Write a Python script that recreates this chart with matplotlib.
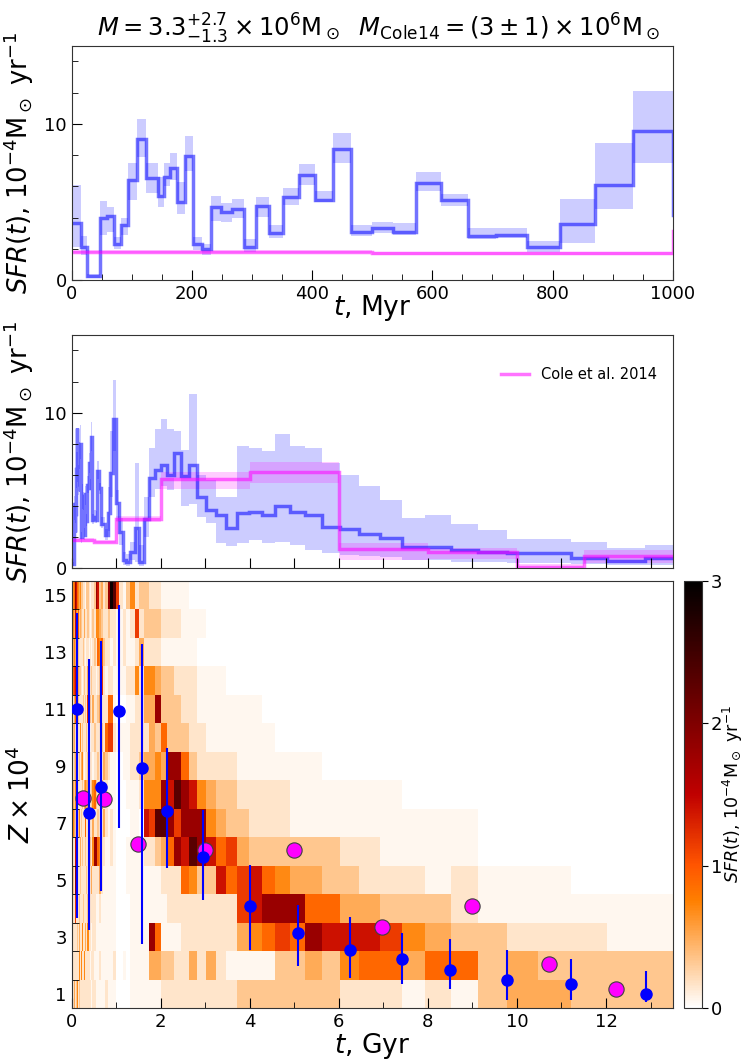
import matplotlib
matplotlib.use('Agg')
import matplotlib.pyplot as plt
import numpy as np
from matplotlib.ticker import MultipleLocator

# time bin edges, Gyr
t_edges = [0.0, 0.015, 0.025, 0.047, 0.058, 0.071, 0.082, 0.094, 0.108, 0.124,
           0.143, 0.153, 0.164, 0.176, 0.189, 0.202, 0.217, 0.232, 0.249, 0.267,
           0.286, 0.307, 0.329, 0.352, 0.378, 0.405, 0.434, 0.465, 0.499, 0.535,
           0.573, 0.615, 0.659, 0.706, 0.757, 0.812, 0.870, 0.933, 1.0,
           1.072, 1.148, 1.230, 1.318, 1.413, 1.514, 1.622, 1.738, 1.862, 1.995,
           2.138, 2.291, 2.455, 2.630, 2.818, 3.020, 3.236, 3.467, 3.715, 3.981,
           4.266, 4.571, 4.898, 5.248, 5.623, 6.026, 6.457, 6.918, 7.413, 7.943,
           8.511, 9.120, 9.772, 10.47, 11.22, 12.02, 12.88, 13.5]

# SFR, 1e-4 Msun/yr
sfr = [3.67, 2.1, 0.26, 4.0, 4.12, 2.3, 3.5, 6.4, 9.0, 6.5,
       5.4, 6.6, 7.16, 4.98, 7.97, 2.3, 1.97, 4.66, 4.38, 4.57,
       2.1, 4.74, 3.03, 5.34, 6.73, 5.13, 8.4, 3.08, 3.3, 3.06,
       6.24, 5.13, 2.82, 2.86, 2.1, 3.57, 6.11, 9.57,
       4.17, 2.34, 0.52, 0.41, 1.05, 2.56, 0.41, 3.14, 5.79, 6.32,
       6.65, 6.0, 7.4, 5.9, 6.65, 4.6, 3.74, 3.42, 2.56, 3.53,
       3.63, 3.42, 3.96, 3.63, 3.42, 2.62, 2.52, 2.19, 1.91, 1.34,
       1.34, 1.16, 1.05, 0.95, 0.95, 0.63, 0.47, 0.63]
sfr_lo = [2.1, 1.6, 0.1, 2.9, 3.1, 2.0, 2.9, 5.13, 7.9, 5.56,
          4.7, 6.0, 6.4, 4.2, 7.0, 1.9, 1.6, 3.8, 3.7, 3.95,
          1.8, 4.05, 2.7, 4.8, 6.1, 5.0, 7.5, 2.8, 3.0, 2.9,
          5.7, 4.74, 2.6, 2.7, 1.8, 2.4, 4.55, 7.5,
          3.0, 1.5, 0.2, 0.1, 0.5, 0.4, 0.1, 2.0, 4.6, 5.1,
          5.3, 5.0, 5.8, 3.96, 4.1, 3.3, 2.88, 1.59, 1.42, 1.59,
          1.8, 1.59, 1.7, 1.5, 1.16, 0.99, 0.84, 0.77, 0.73, 0.52,
          0.52, 0.41, 0.37, 0.35, 0.35, 0.25, 0.19, 0.19]
sfr_hi = [6.1, 2.8, 0.4, 5.06, 4.66, 2.78, 3.95, 7.48, 10.3, 7.48,
          6.6, 7.48, 8.1, 6.3, 9.2, 2.78, 2.3, 5.4, 4.9, 5.2,
          2.6, 5.3, 3.5, 5.9, 7.4, 5.7, 9.4, 3.5, 3.7, 3.65,
          6.9, 5.5, 3.3, 3.3, 2.5, 5.2, 8.8, 12.1,
          5.0, 3.2, 1.0, 0.9, 1.7, 6.75, 1.5, 4.6, 7.7, 8.95,
          9.6, 8.95, 8.8, 7.6, 11.2, 6.0, 5.68, 4.6, 4.6, 7.83,
          7.7, 7.5, 8.65, 7.83, 7.7, 6.75, 5.96, 5.25, 4.39, 3.2,
          3.38, 2.84, 2.45, 1.85, 1.85, 1.66, 1.27, 1.48]

# Cole et al. 2014
cole_edges = [0, 0.5, 1.0, 2.0, 4.0, 6.0, 8.0, 10.0, 11.5, 13.5]
cole_sfr = [1.8, 1.7, 3.15, 5.7, 6.2, 1.25, 1.0, 0.05, 0.78]
cole_lo = [1.7, 1.6, 2.95, 5.1, 5.5, 0.5, 0.6, 0.0, 0.3]
cole_hi = [1.9, 1.8, 3.35, 6.2, 6.8, 1.6, 1.3, 0.25, 1.15]

# SFR(t, Z) map, one string per Z row (Z = 15 at the top), one char per time bin
z_levels = {'0': 0.0, '1': 0.05, '2': 0.16, '3': 0.33, '4': 0.5, '5': 0.7,
            '6': 0.9, '7': 1.15, '8': 1.4, '9': 1.8, 'A': 2.3, 'B': 2.9}
z_rows = [
    "9758659856 5446543322 2133212239 834239BA 72135 2332211 11000000000000000000000000",
    "6857468534 6532453223 4223212325 54322322 11212 7233322 21110000000000000000000000",
    "5647534642 3223212232 2122121232 65632212 11211 2422211 11100000000000000000000000",
    "3464758436 4232322122 3224223221 23721221 11122 5255433 22211100000000000000000000",
    "2325486324 3221232232 2327732422 34222661 00011 2244933 32211111100000000000000000",
    "2232432523 2122522321 2232212232 22326772 11112 2224363 33221111110000000000000000",
    "3225324223 2232224522 1223222122 32243211 00112 2344549 96322221111110000000000000",
    "2342325232 2423222324 4544323563 22422111 00011 1255598 A9854332222111111000000000",
    "3252423622 3259223223 2622322422 32242121 00001 1087AA9 79995433222111111111000000",
    "2324228322 2322422322 2322232599 65221121 00011 1122346 98A98674333333221111000000",
    "2232239222 2522322223 2232224222 24211111 00011 1111122 26533867865443322212111000",
    "2223227212 2232222232 2223222221 12111111 00001 1111112 22222227899966443332111111",
    "2322242223 2242222522 2425221221 11111111 00001 1119611 12222224567698887543322211",
    "2225242212 2252225222 5222212211 12111112 00101 1114433 22424211113343566466343333",
    "2322422325 2232242222 2222221221 11112111 00001 1111122 22222223333333222121344333",
]
z_labels = [1, 3, 5, 7, 9, 11, 13, 15]

# metallicity estimates (blue) and Cole et al. points (magenta)
blue_t = [0.13, 0.39, 0.66, 1.06, 1.58, 2.14, 2.95, 4.0, 5.08, 6.26, 7.41, 8.50, 9.78, 11.22, 12.89]
blue_z = [11.0, 7.36, 8.25, 10.93, 8.94, 7.42, 5.79, 4.07, 3.13, 2.54, 2.22, 1.82, 1.47, 1.35, 1.0]
blue_lo = [3.66, 3.25, 4.61, 6.81, 2.74, 5.43, 4.3, 2.54, 1.96, 1.55, 1.35, 1.18, 0.79, 0.77, 0.71]
blue_hi = [14.36, 12.74, 13.39, 14.63, 13.27, 9.64, 7.46, 5.53, 4.12, 3.68, 3.15, 2.93, 2.54, 2.22, 1.79]
mag_t = [0.25, 0.73, 1.49, 2.99, 4.99, 6.97, 8.98, 10.72, 12.22]
mag_z = [7.87, 7.84, 6.26, 6.05, 6.05, 3.36, 4.07, 2.05, 1.17]

plt.rcParams.update({'font.size': 13,
                     'xtick.direction': 'in', 'ytick.direction': 'in',
                     'xtick.major.size': 7, 'ytick.major.size': 7,
                     'xtick.minor.size': 4, 'ytick.minor.size': 4,
                     'axes.edgecolor': '0.2'})

sfr_label = r'$SFR(t)$, $10^{-4}\mathrm{M}_\odot\ \mathrm{yr}^{-1}$'

fig = plt.figure(figsize=(7.43, 10.61), dpi=100)
ax1 = fig.add_axes([0.0965, 0.7361, 0.809, 0.2208])
ax2 = fig.add_axes([0.0965, 0.4647, 0.809, 0.2196])
ax3 = fig.add_axes([0.0965, 0.0499, 0.809, 0.4028])
cax = fig.add_axes([0.921, 0.0499, 0.0242, 0.4028])

edges = np.array(t_edges)
cedges = np.array(cole_edges)

for ax, scale in [(ax1, 1000.0), (ax2, 1.0)]:
    ax.stairs(sfr_hi, edges * scale, baseline=sfr_lo, fill=True, color='blue', alpha=0.2, lw=0)
    ax.stairs(cole_hi, cedges * scale, baseline=cole_lo, fill=True, color='magenta', alpha=0.2, lw=0)
    ax.stairs(sfr, edges * scale, baseline=None, color='blue', alpha=0.55, lw=2.5)
    ax.stairs(cole_sfr, cedges * scale, baseline=None, color='magenta', alpha=0.55, lw=2.5)
    ax.set_ylim(0, 15)
    ax.yaxis.set_major_locator(MultipleLocator(10))
    ax.yaxis.set_minor_locator(MultipleLocator(2))
    ax.set_ylabel(sfr_label, fontsize=18.5)
    ax.yaxis.set_label_coords(-0.06, 0.5)

ax1.set_xlim(0, 1000)
ax1.xaxis.set_major_locator(MultipleLocator(200))
ax1.xaxis.set_minor_locator(MultipleLocator(50))
ax1.set_xlabel(r'$t$, Myr', fontsize=19, labelpad=-7)
ax1.set_title(r'$M = 3.3^{+2.7}_{-1.3}\times 10^6\mathrm{M}_\odot$  '
              r'$M_\mathrm{Cole14} = (3\pm 1)\times 10^6\mathrm{M}_\odot$',
              fontsize=17.5, pad=6, x=0.51)

ax2.set_xlim(0, 13.5)
ax2.xaxis.set_major_locator(MultipleLocator(1))
ax2.set_xticklabels([])
ax2.plot([], [], color='magenta', alpha=0.55, lw=2.5, label='Cole et al. 2014')
ax2.legend(loc='upper right', bbox_to_anchor=(0.995, 0.92), frameon=False,
           fontsize=10.5, handlelength=1.9)

# metallicity map
grid = np.array([[z_levels[c] for c in r.replace(' ', '')] for r in z_rows])[::-1]
z_edges = np.arange(0.5, 16.0, 1.0)
mesh = ax3.pcolormesh(edges, z_edges, grid, cmap='gist_heat_r', vmin=0, vmax=3)
ax3.plot(mag_t, mag_z, 'o', ms=11, mfc='magenta', mec='0.25', mew=0.8, zorder=3)
bz = np.array(blue_z)
ax3.errorbar(blue_t, blue_z, yerr=[bz - np.array(blue_lo), np.array(blue_hi) - bz],
             fmt='o', color='blue', ms=8, elinewidth=1.5, capsize=0, zorder=4)
ax3.set_xlim(0, 13.5)
ax3.set_ylim(0.5, 15.5)
ax3.xaxis.set_major_locator(MultipleLocator(2))
ax3.xaxis.set_minor_locator(MultipleLocator(1))
ax3.set_yticks(z_labels)
ax3.set_yticks(z_edges, minor=True)
ax3.tick_params(axis='y', which='major', length=0)
ax3.tick_params(axis='y', which='minor', length=5)
ax3.set_xlabel(r'$t$, Gyr', fontsize=19, labelpad=0)
ax3.set_ylabel(r'$Z\times 10^4$', fontsize=19)
ax3.yaxis.set_label_coords(-0.06, 0.5)

cb = fig.colorbar(mesh, cax=cax, ticks=[0, 1, 2, 3])
cb.ax.tick_params(direction='out', length=4, pad=2)
cb.set_label(sfr_label, fontsize=12.5, labelpad=-1)

fig.savefig('out.png', dpi=100)
